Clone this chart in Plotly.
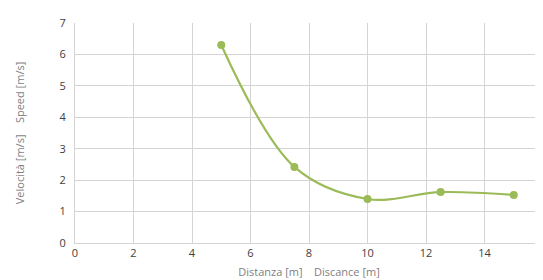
import plotly.graph_objects as go

distance = [5, 7.5, 10, 12.5, 15]
speed = [6.3, 2.42, 1.4, 1.62, 1.53]
x_ticks = [0, 2, 4, 6, 8, 10, 12, 14, 16]
y_ticks = [0, 1, 2, 3, 4, 5, 6, 7]

fig = go.Figure()
fig.add_trace(go.Scatter(
    x=distance, y=speed, mode="lines+markers",
    line=dict(color="#9bbb59", width=2.2, shape="spline", smoothing=1.0),
    marker=dict(color="#9bbb59", size=8),
    showlegend=False, cliponaxis=False,
))

font_family = "Open Sans, Noto Sans, sans-serif"
# page body has an 8px default margin: figure is sized/positioned to compensate
fig.update_layout(
    width=535, height=272,
    margin=dict(l=67, r=0, t=15, b=37, pad=0, autoexpand=False),
    paper_bgcolor="white", plot_bgcolor="white",
    font=dict(family=font_family, size=11, color="#404040"),
    xaxis=dict(
        range=[0, 16], tickvals=x_ticks, ticktext=[str(v) for v in x_ticks],
        showgrid=True, gridcolor="#d4d4d4", gridwidth=1,
        showline=True, linecolor="#d4d4d4", linewidth=1,
        ticks="", zeroline=False, automargin=False,
        ticklabeloverflow="allow",
        title=dict(text="Distanza [m]    Discance [m]", font=dict(size=11, color="#7f7f7f"), standoff=9),
    ),
    yaxis=dict(
        range=[0, 7], tickvals=y_ticks,
        showgrid=True, gridcolor="#d4d4d4", gridwidth=1,
        showline=True, linecolor="#d4d4d4", linewidth=1,
        ticks="outside", ticklen=6, tickcolor="rgba(0,0,0,0)",
        zeroline=False, automargin=False,
        title=dict(text="Velocità [m/s]    Speed [m/s]", font=dict(size=11, color="#7f7f7f"), standoff=32),
    ),
)
fig.write_html("out.html")
